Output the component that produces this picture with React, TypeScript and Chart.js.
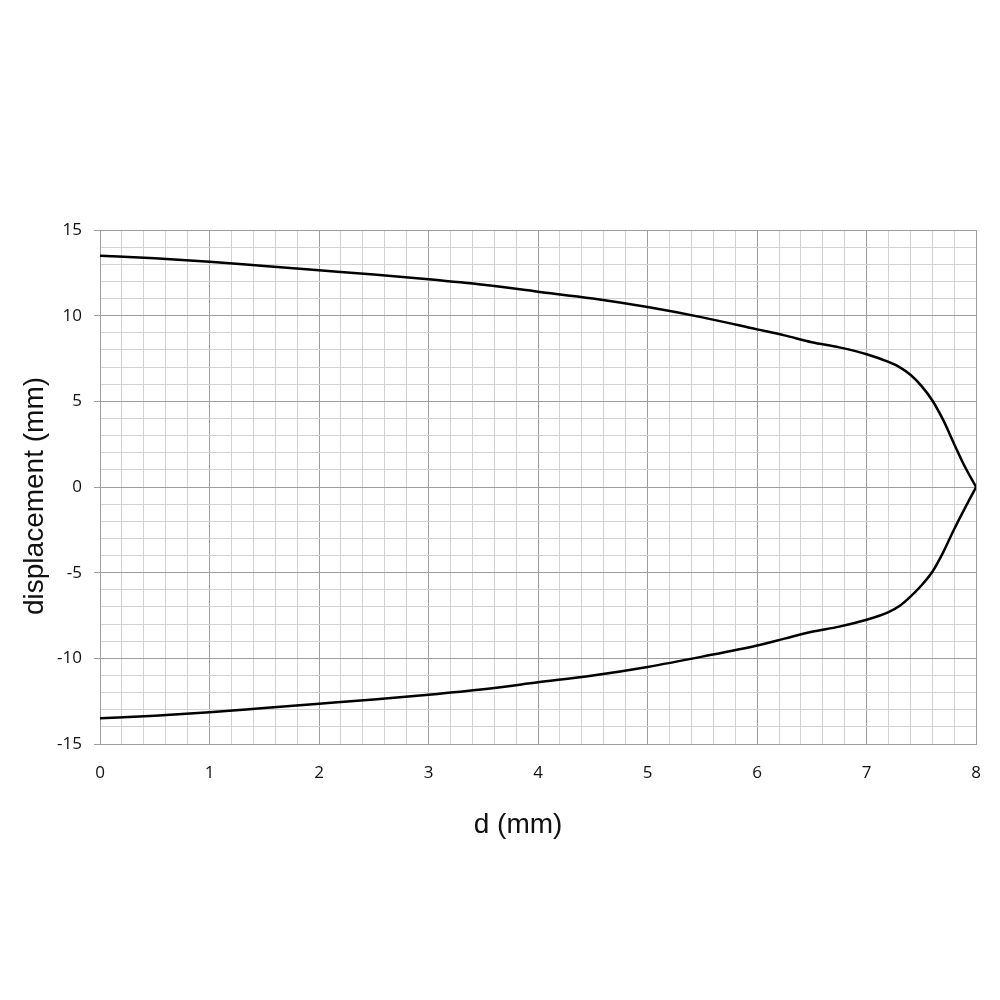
import React, { useEffect, useRef } from "react";
import { Chart, registerables } from "chart.js";

Chart.register(...registerables);

const dValues = [0, 0.5, 1, 1.5, 2, 2.5, 3, 3.5, 4, 4.5, 5, 5.5, 6, 6.25, 6.5, 6.75, 7, 7.2, 7.3, 7.4, 7.5, 7.6, 7.7, 7.8, 7.9, 8];
const upperDisp = [13.5, 13.35, 13.15, 12.9, 12.65, 12.4, 12.12, 11.8, 11.4, 11.0, 10.5, 9.9, 9.2, 8.85, 8.45, 8.15, 7.75, 7.3, 7.0, 6.55, 5.9, 5.05, 3.9, 2.5, 1.15, 0];
const lowerDisp = [-13.5, -13.35, -13.15, -12.9, -12.65, -12.4, -12.12, -11.8, -11.4, -11.0, -10.5, -9.9, -9.25, -8.85, -8.45, -8.15, -7.75, -7.3, -6.95, -6.4, -5.75, -4.95, -3.8, -2.45, -1.2, 0];

const xTitle = "d (mm)";
const yTitle = "displacement (mm)";

const MAJOR = "#9d9d9d";
const MINOR = "#d2d2d2";

const isInt = (v: number) => Math.abs(v - Math.round(v)) < 1e-6;
const isMult5 = (v: number) => isInt(v) && Math.round(v) % 5 === 0;

const titlePlugin = {
  id: "axisTitles",
  afterDraw(chart: any) {
    const { ctx, chartArea } = chart;
    ctx.save();
    ctx.fillStyle = "#111";
    ctx.font = "28px 'Liberation Sans'";
    ctx.textAlign = "center";
    ctx.textBaseline = "middle";
    ctx.fillText(xTitle, (chartArea.left + chartArea.right) / 2 - 20, chartArea.bottom + 81);
    ctx.translate(35, (chartArea.top + chartArea.bottom) / 2 + 9);
    ctx.rotate(-Math.PI / 2);
    ctx.fillText(yTitle, 0, 0);
    ctx.restore();
  },
};

export default function App() {
  const ref = useRef<HTMLCanvasElement | null>(null);
  useEffect(() => {
    if (!ref.current) return;
    const lineStyle = {
      borderColor: "#000",
      borderWidth: 2.5,
      pointRadius: 0,
      cubicInterpolationMode: "monotone" as const,
      fill: false,
    };
    const chart = new Chart(ref.current, {
      type: "line",
      data: {
        datasets: [
          { ...lineStyle, data: dValues.map((d, i) => ({ x: d, y: upperDisp[i] })) },
          { ...lineStyle, data: dValues.map((d, i) => ({ x: d, y: lowerDisp[i] })) },
        ],
      },
      plugins: [titlePlugin],
      options: {
        animation: false,
        responsive: false,
        events: [],
        layout: { padding: { left: 0, right: 23, top: 230, bottom: 158 } },
        plugins: { legend: { display: false }, tooltip: { enabled: false }, title: { display: false } },
        scales: {
          x: {
            type: "linear",
            min: 0,
            max: 8,
            afterFit: (s: any) => { s.height = 98; },
            border: { color: MAJOR, width: 1 },
            grid: {
              drawTicks: false,
              color: (c: any) => (isInt(c.tick.value) ? MAJOR : MINOR),
              lineWidth: 1,
            },
            ticks: {
              stepSize: 0.2,
              autoSkip: false,
              maxRotation: 0,
              padding: 19,
              color: "#111",
              font: { family: "'Open Sans'", size: 17 },
              callback: (v: any) => (isInt(Number(v)) ? String(Math.round(Number(v))) : ""),
            },
          },
          y: {
            type: "linear",
            min: -15,
            max: 15,
            afterFit: (s: any) => { s.width = 100; },
            border: { color: MAJOR, width: 1 },
            grid: {
              drawTicks: true,
              tickLength: 6,
              color: (c: any) => (isMult5(c.tick.value) ? MAJOR : MINOR),
              tickColor: (c: any) => (isMult5(c.tick.value) ? MAJOR : "rgba(0,0,0,0)"),
              lineWidth: 1,
            },
            ticks: {
              stepSize: 1,
              autoSkip: false,
              padding: 12,
              color: "#111",
              font: { family: "'Open Sans'", size: 17 },
              callback: (v: any) => (isMult5(Number(v)) ? String(Math.round(Number(v))) : ""),
            },
          },
        },
      },
    });
    return () => chart.destroy();
  }, []);
  return (
    <div style={{ position: "fixed", left: 0, top: 0, width: 1000, height: 1000, background: "#fff" }}>
      <canvas ref={ref} width={1000} height={1000} style={{ display: "block" }} />
    </div>
  );
}
